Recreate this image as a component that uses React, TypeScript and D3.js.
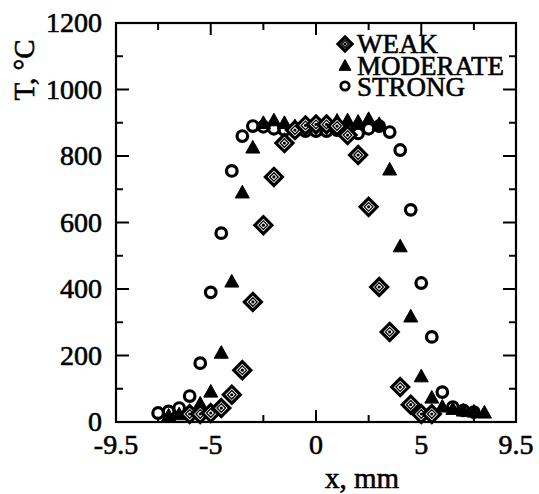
import React from "react";
import * as d3 from "d3";

const weakX = [-6, -5.5, -5, -4.5, -4, -3.5, -3, -2.5, -2, -1.5, -1, -0.5, 0, 0.5, 1, 1.5, 2, 2.5, 3, 3.5, 4, 4.5, 5, 5.5];
const weakT = [24, 24, 27, 42, 82, 156, 361, 592, 737, 839, 878, 892, 895, 895, 890, 863, 803, 647, 406, 271, 105, 52, 24, 24];

const modX = [-7, -6.5, -6, -5.5, -5, -4.5, -4, -3.5, -3, -2.5, -2, -1.5, -1, -0.5, 0, 0.5, 1, 1.5, 2, 2.5, 3, 3.5, 4, 4.5, 5, 5.5, 6, 6.5, 7, 7.5, 8];
const modT = [18, 22, 28, 54, 90, 207, 421, 689, 824, 898, 906, 898, 888, 892, 896, 900, 905, 906, 902, 910, 895, 758, 527, 316, 136, 72, 45, 38, 33, 30, 27];

const strX = [-7.5, -7, -6.5, -6, -5.5, -5, -4.5, -4, -3.5, -3, -2.5, -2, -1.5, -1, -0.5, 0, 0.5, 1, 1.5, 2, 2.5, 3, 3.5, 4, 4.5, 5, 5.5, 6, 6.5, 7, 7.5];
const strT = [27, 32, 42, 78, 177, 390, 568, 755, 860, 890, 888, 882, 878, 875, 875, 875, 875, 878, 880, 868, 882, 890, 872, 818, 638, 418, 256, 90, 45, 35, 30];

const xMajor = [-9.5, -5, 0, 5, 9.5];
const xMinor = [-7.5, -2.5, 2.5, 7.5];
const yMajor = [0, 200, 400, 600, 800, 1000, 1200];
const yMinor = [100, 300, 500, 700, 900, 1100];

const legendLabels = ["WEAK", "MODERATE", "STRONG"];

const FONT = "'Liberation Serif', 'Times New Roman', serif";

const L = 116, R = 516, T = 23, B = 422;

function Diamond({ x, y, s }: { x: number; y: number; s: number }) {
  const p = (h: number) => `M${x},${y - h}L${x + h},${y}L${x},${y + h}L${x - h},${y}Z`;
  return (
    <g>
      <path d={p(s)} fill="white" stroke="black" strokeWidth={3.2} />
      <path d={p(s * 0.5)} fill="none" stroke="black" strokeWidth={1.3} />
      <circle cx={x} cy={y} r={1.6} fill="black" />
    </g>
  );
}

function Tri({ x, y, s }: { x: number; y: number; s: number }) {
  const h = s * 0.9;
  return <path d={`M${x},${y - h * 0.6}L${x + s / 2},${y + h * 0.4}L${x - s / 2},${y + h * 0.4}Z`} fill="black" stroke="black" strokeWidth={1} strokeLinejoin="round" />;
}

function Circ({ x, y, r, w }: { x: number; y: number; r: number; w: number }) {
  return <circle cx={x} cy={y} r={r} fill="white" stroke="black" strokeWidth={w} />;
}

export default function App() {
  const xs = d3.scaleLinear().domain([-9.5, 9.5]).range([L, R]);
  const ys = d3.scaleLinear().domain([0, 1200]).range([B, T]);
  const txt = { fill: "black", stroke: "black", strokeWidth: 0.6 };

  return (
    <svg width={539} height={494} style={{ position: "absolute", left: 0, top: 0, background: "white" }} fontFamily={FONT}>
      <rect x={0} y={0} width={539} height={494} fill="white" />
      {xMajor.concat(xMinor).map((v, i) => {
        const len = xMajor.includes(v) ? 12 : 7;
        return (
          <g key={"xt" + i} stroke="black" strokeWidth={2}>
            <line x1={xs(v)} x2={xs(v)} y1={B} y2={B - len} />
            <line x1={xs(v)} x2={xs(v)} y1={T} y2={T + len} />
          </g>
        );
      })}
      {yMajor.concat(yMinor).map((v, i) => {
        const len = yMajor.includes(v) ? 13 : 7;
        return (
          <g key={"yt" + i} stroke="black" strokeWidth={2}>
            <line x1={L} x2={L + len} y1={ys(v)} y2={ys(v)} />
            <line x1={R} x2={R - len} y1={ys(v)} y2={ys(v)} />
          </g>
        );
      })}
      {strX.map((v, i) => <Circ key={"s" + i} x={xs(v)} y={ys(strT[i])} r={5.3} w={3.2} />)}
      {modX.map((v, i) => <Tri key={"m" + i} x={xs(v)} y={ys(modT[i])} s={14} />)}
      {weakX.map((v, i) => <Diamond key={"w" + i} x={xs(v)} y={ys(weakT[i])} s={8.5} />)}
      <rect x={L} y={T} width={R - L} height={B - T} fill="none" stroke="black" strokeWidth={2.2} />
      {yMajor.map((v) => (
        <text key={"yl" + v} x={L - 14} y={ys(v)} dy="0.33em" textAnchor="end" fontSize={28} {...txt}>{v}</text>
      ))}
      {xMajor.map((v) => (
        <text key={"xl" + v} x={xs(v)} y={454} textAnchor="middle" fontSize={28} {...txt}>{v}</text>
      ))}
      <text x={362} y={488} textAnchor="middle" fontSize={29} {...txt}>x, mm</text>
      <text transform="translate(34,70) rotate(-90)" textAnchor="middle" fontSize={29} {...txt}>T, °C</text>
      <Diamond x={345} y={44} s={7} />
      <Tri x={345} y={66} s={12} />
      <Circ x={345} y={86} r={4.2} w={2.8} />
      {legendLabels.map((t, i) => (
        <text key={t} x={357} y={53 + i * 21.5} fontSize={27} {...txt}>{t}</text>
      ))}
    </svg>
  );
}
